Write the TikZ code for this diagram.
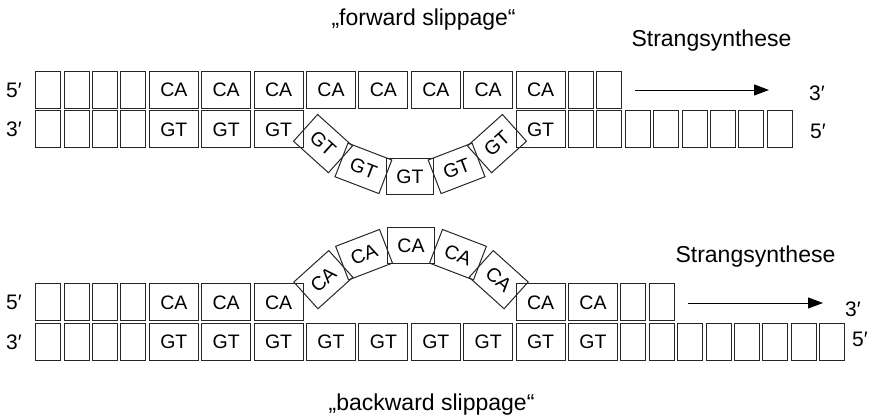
\documentclass[tikz,border=0pt]{standalone}
\usepackage{fontspec}
\setmainfont{Liberation Sans}
\usetikzlibrary{arrows.meta, positioning, calc}

\begin{document}
\begin{tikzpicture}[
    x=1pt, y=1pt,
    unit/.style={rectangle, draw=black!85, line width=1pt, minimum height=37pt, inner sep=0pt, font=\fontsize{19.5}{22}\selectfont},
    slot/.style={unit, minimum width=25pt},
    pair/.style={unit, minimum width=49pt},
    loopbox/.style={unit, minimum width=47pt, minimum height=36pt},
    endlabel/.style={font=\fontsize{21}{24}\selectfont},
    caption/.style={font=\fontsize{23}{26}\selectfont},
    arrow/.style={-{Triangle[length=15pt, width=11pt]}, line width=0.9pt}
  ]
  \useasboundingbox (0,0) rectangle (883,415);

  % forward slippage: new strand
  \foreach \i in {1,...,4} \node[slot] (fa\i) at ({48.2+(\i-1)*28.4},325) {};
  \foreach \i in {1,...,8} \node[pair] (fc\i) at ({173.8+(\i-1)*52.4},325) {CA};
  \foreach \i in {1,2} \node[slot] (fe\i) at ({581+(\i-1)*28.4},325) {};
  % template strand with loop
  \foreach \i in {1,...,4} \node[slot] (fb\i) at ({48.2+(\i-1)*28.4},285.5) {};
  \foreach \i in {1,2,3} \node[pair] (fg\i) at ({173.8+(\i-1)*52.4},285.5) {GT};
  \foreach \a [count=\i] in {-42,-21,0,21,42}
    \node[loopbox, rotate=\a] (fl\i) at ($(410,368)+(270+\a:130)$) {GT};
  \node[pair] (fg4) at (540.6,285.5) {GT};
  \foreach \i in {1,...,8} \node[slot] (ff\i) at ({581+(\i-1)*28.4},285.5) {};

  \node[endlabel] (f5l) at (14,325) {5′};
  \node[endlabel] (f3l) at (14,285.5) {3′};
  \node[endlabel] (f3r) at (817,322) {3′};
  \node[endlabel] (f5r) at (818,284) {5′};
  \coordinate (fs) at (635,325);
  \coordinate (ft) at (769,325);
  \draw[arrow] (fs) -- (ft);
  \node[caption, anchor=base west] (fsyn) at (628,368) {Strangsynthese};
  \node[caption, anchor=base west] (ftitle) at (328,389) {„forward slippage“};

  % backward slippage: new strand with loop
  \foreach \i in {1,...,4} \node[slot] (ba\i) at ({48.2+(\i-1)*28.4},112.5) {};
  \foreach \i in {1,2,3} \node[pair] (bc\i) at ({173.8+(\i-1)*52.4},112.5) {CA};
  \foreach \a [count=\i] in {42,21,0,-21,-42}
    \node[loopbox, rotate=\a] (bl\i) at ($(411,38)+(90+\a:131)$) {CA};
  \foreach \i in {1,2} \node[pair] (bd\i) at ({540.6+(\i-1)*52.4},112.5) {CA};
  \foreach \i in {1,2} \node[slot] (be\i) at ({633.4+(\i-1)*28.4},112.5) {};
  % template strand
  \foreach \i in {1,...,4} \node[slot] (bb\i) at ({48.2+(\i-1)*28.4},73) {};
  \foreach \i in {1,...,9} \node[pair] (bg\i) at ({173.8+(\i-1)*52.4},73) {GT};
  \foreach \i in {1,...,8} \node[slot] (bf\i) at ({633.4+(\i-1)*28.4},73) {};

  \node[endlabel] (b5l) at (14,112.5) {5′};
  \node[endlabel] (b3l) at (14,73) {3′};
  \node[endlabel] (b3r) at (853,106) {3′};
  \node[endlabel] (b5r) at (860,76) {5′};
  \coordinate (bs) at (688,112);
  \coordinate (bt) at (823,112);
  \draw[arrow] (bs) -- (bt);
  \node[caption, anchor=base west] (bsyn) at (672,152) {Strangsynthese};
  \node[caption, anchor=base east] (btitle) at (538,5) {„backward slippage“};
\end{tikzpicture}
\end{document}
